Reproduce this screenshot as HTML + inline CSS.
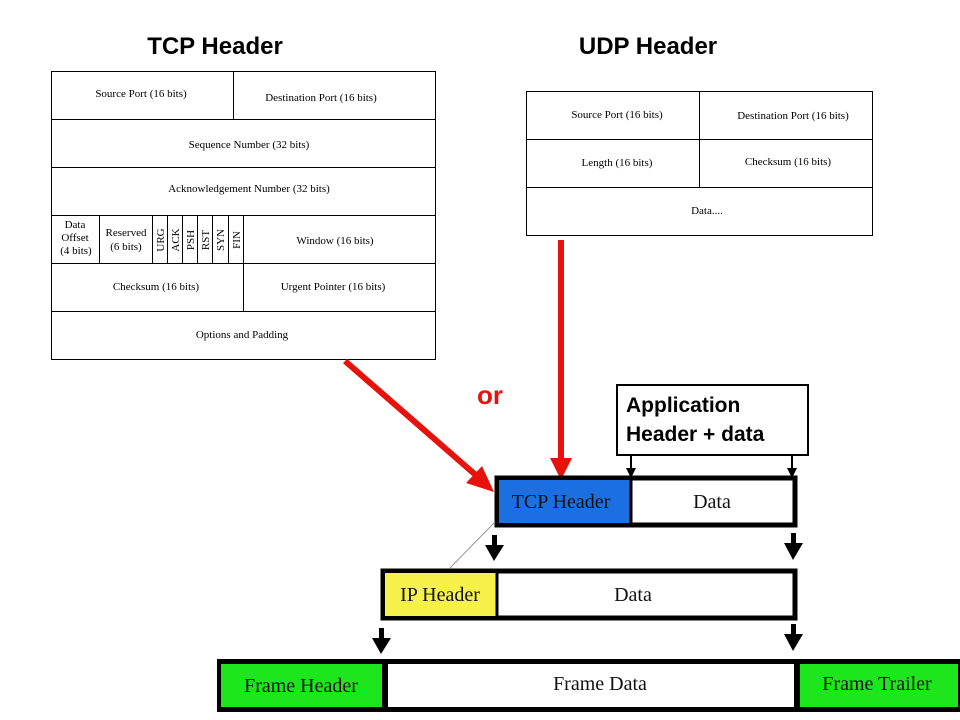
<!DOCTYPE html>
<html><head><meta charset="utf-8"><style>
html,body{margin:0;padding:0;background:#fff;}
svg{display:block;}
.s{font-family:"Liberation Serif",serif;font-size:11px;fill:#000;}
.b{font-family:"Liberation Sans",sans-serif;font-weight:bold;}
.bar{font-family:"Liberation Serif",serif;font-size:20px;fill:#111;}
</style></head><body>
<svg width="960" height="720" viewBox="0 0 960 720">
<defs>
<marker id="ah" markerWidth="6" markerHeight="6" refX="5" refY="3" orient="auto" markerUnits="strokeWidth"><path d="M0,0 L6,3 L0,6 z" fill="#000"/></marker>
</defs>
<text x="215" y="54" text-anchor="middle" class="b" font-size="24">TCP Header</text>
<text x="648" y="54" text-anchor="middle" class="b" font-size="24">UDP Header</text>

<!-- TCP table -->
<g fill="none" stroke="#000" stroke-width="1">
<rect x="51.5" y="71.5" width="384" height="288"/>
<line x1="51" y1="119.5" x2="435" y2="119.5"/>
<line x1="51" y1="167.5" x2="435" y2="167.5"/>
<line x1="51" y1="215.5" x2="435" y2="215.5"/>
<line x1="51" y1="263.5" x2="435" y2="263.5"/>
<line x1="51" y1="311.5" x2="435" y2="311.5"/>
<line x1="233.5" y1="71" x2="233.5" y2="119"/>
<line x1="99.5" y1="215" x2="99.5" y2="263"/>
<line x1="152.5" y1="215" x2="152.5" y2="263"/>
<line x1="167.5" y1="215" x2="167.5" y2="263"/>
<line x1="182.5" y1="215" x2="182.5" y2="263"/>
<line x1="197.5" y1="215" x2="197.5" y2="263"/>
<line x1="212.5" y1="215" x2="212.5" y2="263"/>
<line x1="228.5" y1="215" x2="228.5" y2="263"/>
<line x1="243.5" y1="215" x2="243.5" y2="311"/>
</g>
<text class="s" x="141" y="97" text-anchor="middle">Source Port (16 bits)</text>
<text class="s" x="321" y="101" text-anchor="middle">Destination Port (16 bits)</text>
<text class="s" x="249" y="148" text-anchor="middle">Sequence Number (32 bits)</text>
<text class="s" x="249" y="192" text-anchor="middle">Acknowledgement Number (32 bits)</text>
<text class="s" x="75" y="228" text-anchor="middle">Data</text>
<text class="s" x="75" y="241" text-anchor="middle">Offset</text>
<text class="s" x="76" y="254" text-anchor="middle">(4 bits)</text>
<text class="s" x="126" y="236" text-anchor="middle">Reserved</text>
<text class="s" x="126" y="250" text-anchor="middle">(6 bits)</text>
<g class="s">
<text transform="translate(164,240) rotate(-90)" text-anchor="middle">URG</text>
<text transform="translate(179,240) rotate(-90)" text-anchor="middle">ACK</text>
<text transform="translate(194,240) rotate(-90)" text-anchor="middle">PSH</text>
<text transform="translate(209,240) rotate(-90)" text-anchor="middle">RST</text>
<text transform="translate(224,240) rotate(-90)" text-anchor="middle">SYN</text>
<text transform="translate(240,240) rotate(-90)" text-anchor="middle">FIN</text>
</g>
<text class="s" x="335" y="244" text-anchor="middle">Window (16 bits)</text>
<text class="s" x="156" y="290" text-anchor="middle">Checksum (16 bits)</text>
<text class="s" x="333" y="290" text-anchor="middle">Urgent Pointer (16 bits)</text>
<text class="s" x="242" y="338" text-anchor="middle">Options and Padding</text>

<!-- UDP table -->
<g fill="none" stroke="#000" stroke-width="1">
<rect x="526.5" y="91.5" width="346" height="144"/>
<line x1="526" y1="139.5" x2="872" y2="139.5"/>
<line x1="526" y1="187.5" x2="872" y2="187.5"/>
<line x1="699.5" y1="91" x2="699.5" y2="187"/>
</g>
<text class="s" x="617" y="118" text-anchor="middle">Source Port (16 bits)</text>
<text class="s" x="793" y="119" text-anchor="middle">Destination Port (16 bits)</text>
<text class="s" x="617" y="166" text-anchor="middle">Length (16 bits)</text>
<text class="s" x="788" y="165" text-anchor="middle">Checksum (16 bits)</text>
<text class="s" x="707" y="214" text-anchor="middle">Data....</text>

<!-- red arrows -->
<line x1="345" y1="361" x2="478" y2="477" stroke="#e8120c" stroke-width="6"/>
<polygon points="494,492 466,483 482,466" fill="#e8120c"/>
<line x1="561" y1="240" x2="561" y2="460" stroke="#e8120c" stroke-width="6"/>
<polygon points="561,480 550,458 572,458" fill="#e8120c"/>
<text x="490" y="404" text-anchor="middle" class="b" font-size="26" fill="#e8120c">or</text>

<!-- App box -->
<rect x="617" y="385" width="191" height="70" fill="#fff" stroke="#000" stroke-width="2"/>
<text x="626" y="412" class="b" font-size="21">Application</text>
<text x="626" y="441" class="b" font-size="21">Header + data</text>
<line x1="631" y1="455" x2="631" y2="470" stroke="#000" stroke-width="2"/>
<polygon points="631,478 626,468 636,468" fill="#000"/>
<line x1="792" y1="455" x2="792" y2="470" stroke="#000" stroke-width="2"/>
<polygon points="792,478 787,468 797,468" fill="#000"/>

<!-- TCP bar -->
<rect x="497" y="478" width="298" height="47" fill="#fff" stroke="#000" stroke-width="5"/>
<rect x="499" y="480" width="131" height="43" fill="#1b6fe0"/>
<line x1="631" y1="478" x2="631" y2="525" stroke="#000" stroke-width="3"/>
<text x="561" y="508" text-anchor="middle" class="bar">TCP Header</text>
<text x="712" y="508" text-anchor="middle" class="bar">Data</text>
<line x1="450" y1="568" x2="495" y2="522" stroke="#999" stroke-width="1"/>

<!-- arrows -->
<g fill="#000">
<rect x="492" y="535" width="5" height="12"/><polygon points="485,545 504,545 494,561"/>
<rect x="791" y="533" width="5" height="12"/><polygon points="784,543 803,543 793,560"/>
<rect x="379" y="628" width="5" height="12"/><polygon points="372,638 391,638 381,654"/>
<rect x="791" y="624" width="5" height="12"/><polygon points="784,634 803,634 793,651"/>
</g>

<!-- IP bar -->
<rect x="383" y="571" width="412" height="47" fill="#fff" stroke="#000" stroke-width="5"/>
<rect x="385" y="573" width="111" height="43" fill="#f5f04a"/>
<line x1="497" y1="571" x2="497" y2="618" stroke="#000" stroke-width="3"/>
<text x="440" y="601" text-anchor="middle" class="bar">IP Header</text>
<text x="633" y="601" text-anchor="middle" class="bar">Data</text>

<!-- Frame bar -->
<rect x="217" y="659" width="750" height="53" fill="#000"/>
<rect x="221" y="664" width="161" height="43" fill="#1de61d"/>
<rect x="388" y="664" width="406" height="43" fill="#fff"/>
<rect x="800" y="664" width="158" height="43" fill="#1de61d"/>
<text x="301" y="692" text-anchor="middle" class="bar">Frame Header</text>
<text x="600" y="690" text-anchor="middle" class="bar">Frame Data</text>
<text x="877" y="690" text-anchor="middle" class="bar">Frame Trailer</text>
</svg>
</body></html>
